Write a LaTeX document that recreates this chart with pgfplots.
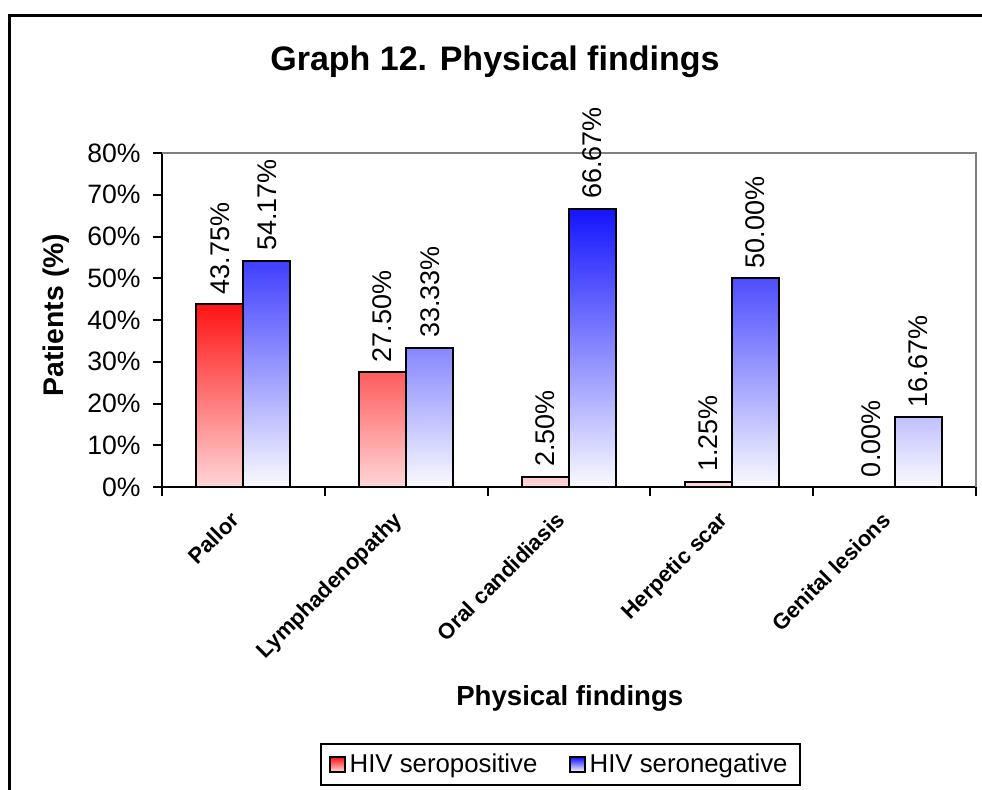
\documentclass[border=0pt]{standalone}
\usepackage{fontspec}
\setmainfont{Liberation Sans}
\usepackage{pgfplots}
\pgfplotsset{compat=1.18}

\definecolor{posTop}{RGB}{255,20,20}
\definecolor{posBot}{RGB}{255,214,216}
\definecolor{negTop}{RGB}{20,20,255}
\definecolor{negMid}{RGB}{170,170,250}
\definecolor{negBot}{RGB}{250,250,255}
\definecolor{frameGray}{RGB}{128,128,128}

\begin{document}
\begin{tikzpicture}[x=1pt,y=1pt]
\useasboundingbox (-81,-151) rectangle (410,243.5);
% outer chart frame
\draw[line width=1.5pt] (-76,-170) -- (-76,236) -- (420,236);
\begin{axis}[
  at={(0,0)}, anchor=south west,
  width=407pt, height=167pt, scale only axis,
  /pgf/number format/assume math mode=true,
  ybar=0pt, bar width=0.289,
  xmin=-0.5, xmax=4.5, ymin=0, ymax=80,
  axis x line*=bottom, axis y line*=left,
  axis line style={line width=1pt, black},
  clip=false,
  tick align=outside,
  tick style={black, line width=1pt},
  major tick length=4.5pt,
  ytick={0,10,...,80},
  yticklabels={0\%,10\%,20\%,30\%,40\%,50\%,60\%,70\%,80\%},
  yticklabel style={font=\fontsize{13.3}{16}\selectfont, inner sep=1pt, xshift=-5pt},
  xtick={-0.5,0.5,...,4.5},
  xticklabels={},
  extra x ticks={0,1,2,3,4},
  extra x tick labels={Pallor,Lymphadenopathy,Oral candidiasis,Herpetic scar,Genital lesions},
  extra x tick style={major tick length=0pt,
    xticklabel style={xshift=-7pt, yshift=-11.5pt, rotate=45, anchor=north east, inner sep=0pt,
      font=\fontsize{11}{13}\selectfont\bfseries}},
  title={Graph 12. Physical findings},
  title style={at={(axis description cs:0.409,1.2126)}, anchor=base,
    font=\fontsize{17}{20}\selectfont\bfseries},
  xlabel={Physical findings},
  xlabel style={at={(axis description cs:0.501,-0.653)}, anchor=base,
    font=\fontsize{13.8}{16}\selectfont\bfseries},
  ylabel={Patients (\%)},
  ylabel style={at={(axis description cs:-0.130,0.515)}, anchor=center,
    font=\fontsize{14.2}{16}\selectfont\bfseries},
  nodes near coords={\pgfmathprintnumber[fixed,fixed zerofill,precision=2]{\pgfplotspointmeta}\%},
  nodes near coords style={rotate=90, anchor=west, font=\fontsize{13.5}{16}\selectfont, inner sep=4.5pt},
  legend columns=2,
  legend style={at={(axis description cs:0.4896,-0.831)}, anchor=center,
    draw=black, line width=1pt, font=\fontsize{12.9}{15}\selectfont,
    inner xsep=4pt, inner ysep=3pt,
    /tikz/every even column/.append style={column sep=14pt}},
  legend image code/.code={\draw[#1, line width=0.9pt] (0pt,-3.6pt) rectangle (7.2pt,3.6pt);},
]
% top and right borders of the plot area
\draw[frameGray, line width=1pt] (rel axis cs:0,1) -- (rel axis cs:1,1) -- (rel axis cs:1,0);

\addplot[draw=black, line width=1pt, top color=posTop, bottom color=posBot]
  coordinates {(0,43.75) (1,27.50) (2,2.50) (3,1.25) (4,0.00)};
\addplot[draw=black, line width=1pt, top color=negTop, middle color=negMid, bottom color=negBot]
  coordinates {(0,54.17) (1,33.33) (2,66.67) (3,50.00) (4,16.67)};
\legend{HIV seropositive, HIV seronegative}
\end{axis}
\end{tikzpicture}
\end{document}
